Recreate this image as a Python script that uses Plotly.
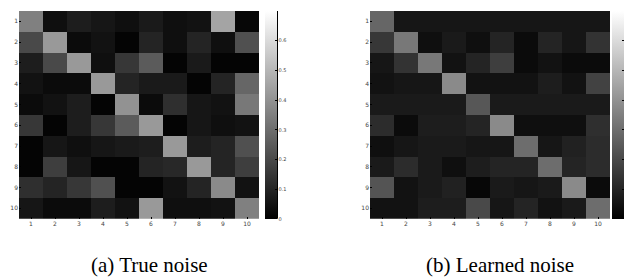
import plotly.graph_objects as go

labels = [str(i) for i in range(1, 11)]

true_noise = [
    [0.35, 0.04, 0.08, 0.06, 0.04, 0.07, 0.04, 0.05, 0.45, 0.02],
    [0.20, 0.42, 0.03, 0.05, 0.01, 0.10, 0.04, 0.10, 0.04, 0.22],
    [0.08, 0.20, 0.42, 0.04, 0.15, 0.25, 0.01, 0.07, 0.01, 0.01],
    [0.05, 0.03, 0.03, 0.42, 0.10, 0.07, 0.07, 0.01, 0.10, 0.28],
    [0.03, 0.05, 0.08, 0.01, 0.40, 0.03, 0.13, 0.06, 0.05, 0.33],
    [0.15, 0.01, 0.08, 0.15, 0.25, 0.42, 0.01, 0.06, 0.04, 0.05],
    [0.01, 0.06, 0.04, 0.06, 0.07, 0.08, 0.42, 0.08, 0.10, 0.22],
    [0.01, 0.17, 0.06, 0.01, 0.01, 0.10, 0.11, 0.42, 0.10, 0.17],
    [0.13, 0.10, 0.15, 0.22, 0.01, 0.01, 0.05, 0.10, 0.38, 0.05],
    [0.06, 0.03, 0.03, 0.08, 0.05, 0.42, 0.04, 0.04, 0.05, 0.35],
]

learned_noise = [
    [0.28, 0.06, 0.06, 0.06, 0.06, 0.06, 0.06, 0.06, 0.06, 0.06],
    [0.15, 0.33, 0.04, 0.07, 0.04, 0.10, 0.03, 0.10, 0.06, 0.14],
    [0.06, 0.14, 0.33, 0.05, 0.10, 0.17, 0.03, 0.05, 0.03, 0.03],
    [0.05, 0.06, 0.06, 0.38, 0.05, 0.05, 0.05, 0.08, 0.05, 0.18],
    [0.07, 0.07, 0.07, 0.07, 0.24, 0.07, 0.07, 0.07, 0.07, 0.07],
    [0.12, 0.03, 0.08, 0.08, 0.10, 0.38, 0.04, 0.04, 0.04, 0.13],
    [0.04, 0.06, 0.07, 0.07, 0.06, 0.06, 0.30, 0.06, 0.09, 0.12],
    [0.07, 0.12, 0.07, 0.04, 0.08, 0.10, 0.10, 0.30, 0.10, 0.12],
    [0.23, 0.05, 0.07, 0.09, 0.02, 0.07, 0.06, 0.07, 0.38, 0.03],
    [0.05, 0.05, 0.08, 0.08, 0.20, 0.06, 0.10, 0.05, 0.07, 0.30],
]

cbar_ticks = [0, 0.1, 0.2, 0.3, 0.4, 0.5, 0.6, 0.7]
captions = ["(a) True noise", "(b) Learned noise"]

W, H = 632, 278
def px(x):
    return x / W
def py(y):
    return (H - y) / H

top, bottom = 3, 210.7
tick_font = dict(family="DejaVu Sans", size=6, color="#444")
cb_font = dict(family="DejaVu Sans", size=5, color="#444")

gray = [[0, "black"], [1, "white"]]

def cbar(x0):
    return dict(
        x=px(x0), xanchor="left", y=py(top), yanchor="top",
        len=(bottom - top) / H, lenmode="fraction", thickness=12,
        xpad=0, ypad=0, outlinewidth=0,
        tickvals=cbar_ticks, ticktext=[("%g" % t) for t in cbar_ticks],
        ticks="inside", ticklen=2, tickcolor="black",
        tickfont=cb_font,
    )

fig = go.Figure()
fig.add_trace(go.Heatmap(z=true_noise, x=labels, y=labels, colorscale=gray,
                         zmin=0, zmax=0.7, colorbar=cbar(257),
                         xaxis="x", yaxis="y", hoverinfo="skip"))
fig.add_trace(go.Heatmap(z=learned_noise, x=labels, y=labels, colorscale=gray,
                         zmin=0, zmax=0.7, colorbar=cbar(604),
                         xaxis="x2", yaxis="y2", hoverinfo="skip"))

ax_common = dict(showgrid=False, zeroline=False, tickfont=tick_font,
                 ticks="inside", ticklen=2, tickcolor="black", showline=False)

fig.update_layout(
    width=W, height=H,
    margin=dict(l=0, r=0, t=0, b=0),
    paper_bgcolor="white", plot_bgcolor="white",
    xaxis=dict(domain=[px(11), px(251)], anchor="y", **ax_common),
    yaxis=dict(domain=[py(bottom), py(top)], anchor="x", autorange="reversed", **ax_common),
    xaxis2=dict(domain=[px(362), px(602)], anchor="y2", **ax_common),
    yaxis2=dict(domain=[py(bottom), py(top)], anchor="x2", autorange="reversed", **ax_common),
    showlegend=False,
)

for cx, txt in zip([141, 492], captions):
    fig.add_annotation(x=px(cx), y=py(257), xref="paper", yref="paper",
                       text=txt, showarrow=False, xanchor="center", yanchor="middle",
                       font=dict(family="Liberation Serif", size=21, color="black"))

for x0 in [269.5, 616.5]:
    fig.add_shape(type="line", xref="paper", yref="paper",
                  x0=px(x0), x1=px(x0), y0=py(bottom), y1=py(top),
                  line=dict(color="black", width=1))

fig.write_html("out.html")
